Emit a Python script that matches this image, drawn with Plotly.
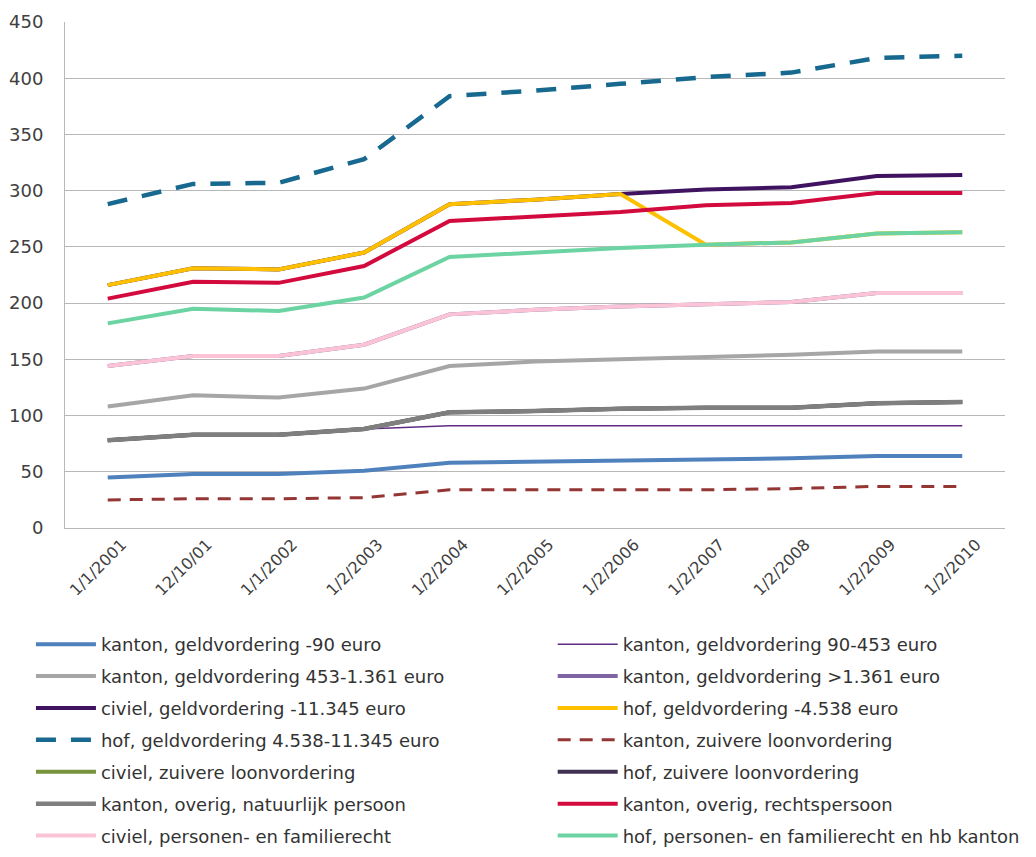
import plotly.graph_objects as go

categories = ["1/1/2001", "12/10/01", "1/1/2002", "1/2/2003", "1/2/2004", "1/2/2005",
              "1/2/2006", "1/2/2007", "1/2/2008", "1/2/2009", "1/2/2010"]

kanton_geld_90 = [45, 48, 48, 51, 58, 59, 60, 61, 62, 64, 64]
kanton_geld_90_453 = [78, 83, 83, 88, 91, 91, 91, 91, 91, 91, 91]
kanton_geld_453_1361 = [108, 118, 116, 124, 144, 148, 150, 152, 154, 157, 157]
kanton_geld_1361 = [144, 153, 153, 163, 190, 194, 197, 199, 201, 209, 209]
civiel_geld_11345 = [216, 231, 230, 245, 288, 292, 297, 301, 303, 313, 314]
hof_geld_4538 = [216, 231, 230, 245, 288, 292, 297, 252, 254, 262, 263]
hof_geld_4538_11345 = [288, 306, 307, 328, 384, 389, 395, 401, 405, 418, 420]
kanton_zuiver = [25, 26, 26, 27, 34, 34, 34, 34, 35, 37, 37]
civiel_zuiver = [78, 83, 83, 88, 103, 104, 106, 107, 107, 111, 112]
hof_zuiver = [78, 83, 83, 88, 103, 104, 106, 107, 107, 111, 112]
kanton_overig_np = [78, 83, 83, 88, 103, 104, 106, 107, 107, 111, 112]
kanton_overig_rp = [204, 219, 218, 233, 273, 277, 281, 287, 289, 298, 298]
civiel_personen = [144, 153, 153, 163, 190, 194, 197, 199, 201, 209, 209]
hof_personen = [182, 195, 193, 205, 241, 245, 249, 252, 254, 262, 263]

series = [
    ("kanton, geldvordering -90 euro", kanton_geld_90, "#4F81BD", 4, "solid"),
    ("kanton, geldvordering 90-453 euro", kanton_geld_90_453, "#5F2C84", 1.5, "solid"),
    ("kanton, geldvordering 453-1.361 euro", kanton_geld_453_1361, "#A6A6A6", 4, "solid"),
    ("kanton, geldvordering >1.361 euro", kanton_geld_1361, "#8064A2", 4, "solid"),
    ("civiel, geldvordering -11.345 euro", civiel_geld_11345, "#3F1360", 4, "solid"),
    ("hof, geldvordering -4.538 euro", hof_geld_4538, "#FFC000", 4, "solid"),
    ("hof, geldvordering 4.538-11.345 euro", hof_geld_4538_11345, "#17698F", 4.5, "20px,15px"),
    ("kanton, zuivere loonvordering", kanton_zuiver, "#943634", 3, "13px,9px"),
    ("civiel, zuivere loonvordering", civiel_zuiver, "#77933C", 4, "solid"),
    ("hof, zuivere loonvordering", hof_zuiver, "#403152", 4, "solid"),
    ("kanton, overig, natuurlijk persoon", kanton_overig_np, "#7F7F7F", 4.5, "solid"),
    ("kanton, overig, rechtspersoon", kanton_overig_rp, "#D20A3E", 4, "solid"),
    ("civiel, personen- en familierecht", civiel_personen, "#FBC3D6", 4, "solid"),
    ("hof, personen- en familierecht en hb kanton", hof_personen, "#6CD3A3", 4, "solid"),
]

fig = go.Figure()
for i, (name, vals, color, width, dash) in enumerate(series):
    fig.add_trace(go.Scatter(
        x=categories, y=vals, name=name, mode="lines",
        line=dict(color=color, width=width, dash=dash),
        legend="legend" if i % 2 == 0 else "legend2",
        legendgroup=name,
    ))

font_family = "DejaVu Sans, Verdana, sans-serif"
legend_common = dict(
    orientation="v", yanchor="top", xanchor="left",
    xref="container", yref="container",
    font=dict(family=font_family, size=18, color="#333333"),
    bgcolor="rgba(0,0,0,0)", itemwidth=60, tracegroupgap=5.5,
    itemclick=False, itemdoubleclick=False,
)

# page body adds an 8px offset; the figure is sized to fit the 1036x857 window
fig.update_layout(
    width=1020, height=841,
    margin=dict(l=57, r=23, t=14, b=321, autoexpand=False),
    paper_bgcolor="white", plot_bgcolor="white",
    font=dict(family=font_family, color="#404040"),
    showlegend=True,
    legend=dict(x=0.0225, y=0.2652, **legend_common),
    legend2=dict(x=0.534, y=0.2652, **legend_common),
    xaxis=dict(
        type="category", range=[-0.5, 10.5],
        showgrid=False, showline=True, linecolor="#B8B8B8", linewidth=1,
        tickangle=-45, tickfont=dict(size=16, color="#404040"),
        ticks="", ticklabelshift=14, zeroline=False, fixedrange=True,
        automargin=False,
    ),
    yaxis=dict(
        range=[0, 450], dtick=50, tick0=0,
        showgrid=True, gridcolor="#B8B8B8", gridwidth=1,
        showline=True, linecolor="#B8B8B8", linewidth=1,
        zeroline=False, ticks="", ticklabelstandoff=17,
        tickfont=dict(size=18, color="#404040"), fixedrange=True,
        automargin=False,
    ),
)

fig.write_html("out.html")
